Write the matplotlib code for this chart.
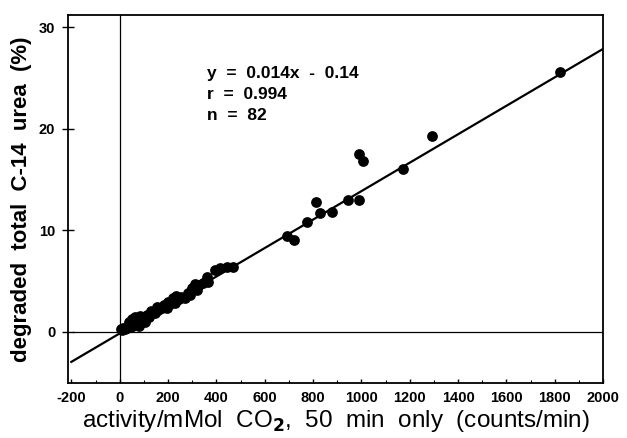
import matplotlib
matplotlib.use("Agg")
import matplotlib.pyplot as plt
import numpy as np

plt.rcParams['font.family'] = ['Liberation Sans', 'DejaVu Sans']

# data (activity counts/min, degraded %)
activity = [5, 8, 15, 22, 29, 35, 40, 45, 50, 55, 62, 62, 70, 78, 85, 95, 103, 112,
            120, 130, 145, 153, 160, 175, 185, 194, 198, 210, 220, 227, 235, 245,
            255, 269, 281, 290, 300, 310, 318, 330, 345, 360, 364, 393, 413, 442, 467,
            694, 723, 773, 814, 830, 880, 946, 988, 988, 1008, 1174, 1293, 1822]
degraded = [0.3, 0.2, 0.4, 0.3, 0.4, 0.6, 1.0, 0.5, 1.3, 0.8, 1.5, 0.7, 1.1, 0.6, 1.6, 1.2, 1.0, 1.7,
            1.5, 2.1, 1.9, 2.5, 2.2, 2.4, 2.7, 2.4, 3.0, 2.8, 3.3, 2.9, 3.5, 3.2,
            3.4, 3.3, 3.8, 3.6, 4.3, 4.7, 4.1, 4.6, 4.8, 5.4, 4.9, 6.1, 6.3, 6.4, 6.4,
            9.4, 9.1, 10.8, 12.8, 11.7, 11.8, 13.0, 17.5, 13.0, 16.8, 16.0, 19.3, 25.6]

slope = 0.014
intercept = -0.14
fit_x = [-200, 2000]

xticks = [-200, 0, 200, 400, 600, 800, 1000, 1200, 1400, 1600, 1800, 2000]
yticks = [0, 10, 20, 30]

fig = plt.figure(figsize=(6.27, 4.38), dpi=100)
ax = fig.add_axes([0.108, 0.126, 0.854, 0.840])
ax.set_xlim(-215, 1998)
ax.set_ylim(-5.0, 31.2)

ax.axvline(0, color='black', lw=0.9, zorder=1)
ax.plot([-195, 1995], [0, 0], color='black', lw=0.9, zorder=1)

fx = np.array(fit_x, dtype=float)
ax.plot(fx, slope * fx + intercept, color='black', lw=1.6, zorder=2)
ax.scatter(activity, degraded, s=60, color='black', zorder=3, linewidths=0)

for s in ax.spines.values():
    s.set_linewidth(1.3)

ax.set_xticks(xticks)
ax.set_xticklabels([str(t) for t in xticks], fontweight='bold', fontsize=10.5)
ax.set_xticks(np.arange(-200, 2001, 100), minor=True)
ax.set_yticks(yticks)
ax.set_yticklabels([str(t) for t in yticks], fontweight='bold', fontsize=10.5)
ax.tick_params(axis='x', which='major', direction='in', length=3, width=1, pad=6)
ax.tick_params(axis='x', which='minor', direction='in', length=2, width=0.8)
ax.tick_params(axis='y', which='major', direction='inout', length=8, width=1, pad=5)

ax.set_xlabel('activity/mMol  CO$_\\mathbf{2}$,  50  min  only  (counts/min)', fontsize=17.5, labelpad=2)
ax.set_ylabel('degraded  total  C-14  urea  (%)', fontsize=16, fontweight='bold', labelpad=5)

ax.text(362, 26.2, 'y  =  0.014x  -  0.14\nr  =  0.994\nn  =  82', fontsize=12.5,
        fontweight='bold', va='top', ha='left', linespacing=1.5)

fig.savefig('out.png', dpi=100)
